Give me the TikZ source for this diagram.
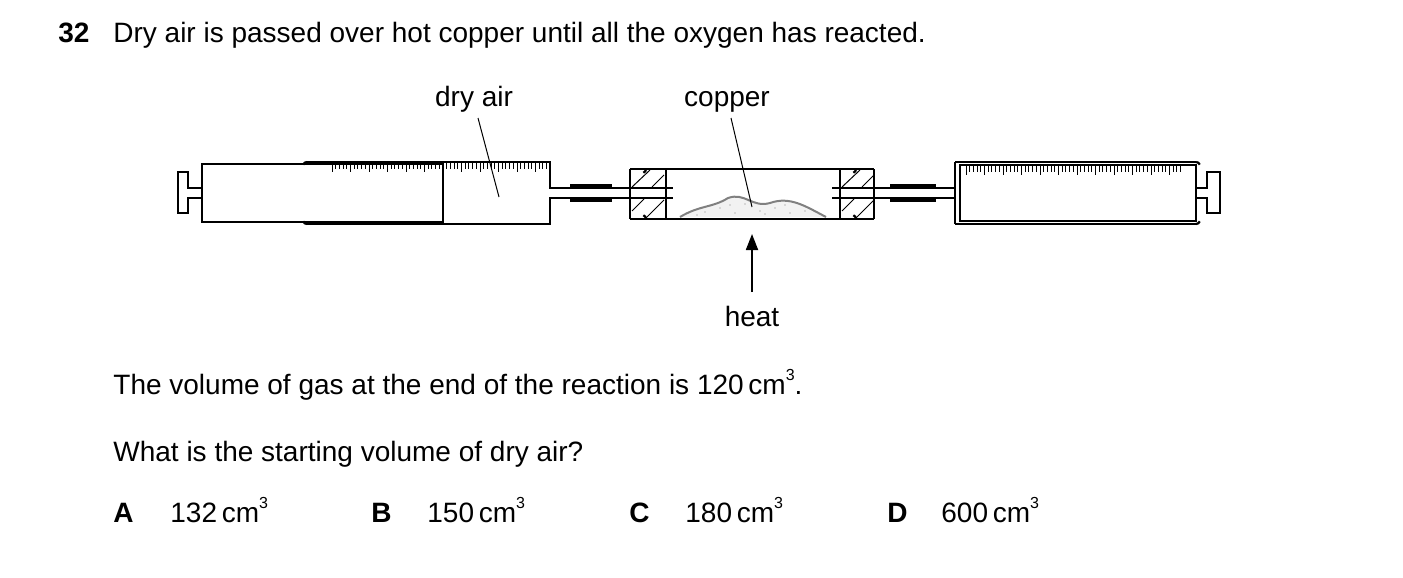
\documentclass[tikz,border=0pt]{standalone}
\usepackage{fontspec}
\setmainfont{Liberation Sans}
\usetikzlibrary{positioning,arrows.meta}
\newcommand{\cubed}{\,cm\raisebox{0.9ex}{\fontsize{8}{8}\selectfont 3}}
\tikzset{
  app/.style={line width=1.1pt, black},
  thin line/.style={line width=0.5pt, black},
  txt/.style={anchor=base west, inner sep=0pt, font=\fontsize{14}{16}\selectfont},
  lbl/.style={anchor=base, inner sep=0pt, font=\fontsize{14}{16}\selectfont},
}
\begin{document}
\begin{tikzpicture}[x=0.5pt,y=-0.5pt]
    \useasboundingbox (0,0) rectangle (1403,578);

    % Question text
    \node[txt, font=\fontsize{14}{16}\selectfont\bfseries] (qnum) at (58,42) {32};
    \node[txt] (qtext) at (113,42) {Dry air is passed over hot copper until all the oxygen has reacted.};

    % Left syringe
    \draw[app] (202,188) -- (188,188) -- (188,172) -- (178,172) -- (178,213) -- (188,213) -- (188,198) -- (202,198);
    \draw[app] (202,164) rectangle (443,222);
    \draw[app] (307,162) -- (550,162) -- (550,188) -- (570,188);
    \draw[app] (307,224) -- (550,224) -- (550,198) -- (570,198);
    \draw[app] (307,162) arc (270:200:4);
    \draw[app] (307,224) arc (90:160:4);
    \foreach \i in {0,...,58} {
      \pgfmathsetmacro{\xx}{332+3.7*\i}
      \pgfmathsetmacro{\ll}{ifthenelse(mod(\i,5)==0,9,6)}
      \draw[thin line] (\xx,163) -- (\xx,163+\ll);
    }
    % Left connector
    \draw[app, line width=2pt] (570,186) -- (612,186);
    \draw[app, line width=2pt] (570,200) -- (612,200);
    \draw[app] (570,188) -- (630,188);
    \draw[app] (570,198) -- (630,198);

    % Combustion tube
    \draw[app] (630,169) -- (874,169);
    \draw[app] (630,219) -- (874,219);
    \draw[app] (630,169) -- (630,219);
    \draw[app] (666,169) -- (666,219);
    \draw[app] (840,169) -- (840,219);
    \draw[app] (874,169) -- (874,219);
    \draw[app] (620,188) -- (673,188);
    \draw[app] (620,198) -- (673,198);
    \draw[app] (832,188) -- (890,188);
    \draw[app] (832,198) -- (890,198);
    \foreach \bx in {630,840} {
      \draw[thin line] (\bx+2,187) -- (\bx+20,170);
      \draw[thin line] (\bx+22,187) -- (\bx+34,175);
      \draw[thin line] (\bx+2,211) -- (\bx+14,199);
      \draw[thin line] (\bx+16,218) -- (\bx+34,200);
      \draw[app] (\bx+16,169) arc (0:70:4);
      \draw[app] (\bx+16,219) arc (0:-70:4);
    }
    % Copper
    \fill[gray!10] (680,217) .. controls (700,205) and (712,208) .. (728,198) .. controls (745,192) and (752,208) .. (770,203) .. controls (790,196) and (805,206) .. (826,217) -- cycle;
    \draw[gray, line width=1pt] (680,217) .. controls (700,205) and (712,208) .. (728,198) .. controls (745,192) and (752,208) .. (770,203) .. controls (790,196) and (805,206) .. (826,217);
    \foreach \dx/\dy in {705/212,720/208,735/213,745/204,760/211,775/208,790/213,805/211,730/205,765/214,697/215,785/205} {
      \fill[gray] (\dx,\dy) circle (0.6);
    }

    % Right connector
    \draw[app, line width=2pt] (890,186) -- (936,186);
    \draw[app, line width=2pt] (890,200) -- (936,200);
    \draw[app] (890,188) -- (955,188);
    \draw[app] (890,198) -- (955,198);

    % Right syringe
    \draw[app] (955,162) -- (1196,162);
    \draw[app] (955,224) -- (1196,224);
    \draw[app] (955,162) -- (955,224);
    \draw[app] (960,165) rectangle (1196,221);
    \draw[app] (1196,162) arc (270:340:4);
    \draw[app] (1196,224) arc (90:20:4);
    \draw[app] (1196,188) -- (1207,188) -- (1207,172) -- (1220,172) -- (1220,213) -- (1207,213) -- (1207,198) -- (1196,198);
    \foreach \i in {0,...,58} {
      \pgfmathsetmacro{\xx}{966+3.7*\i}
      \pgfmathsetmacro{\ll}{ifthenelse(mod(\i,5)==0,9,6)}
      \draw[thin line] (\xx,166) -- (\xx,166+\ll);
    }

    % Labels
    \node[lbl] (dryair) at (474,106) {dry air};
    \node[lbl] (copper) at (727,106) {copper};
    \coordinate (dryairend) at (499,197);
    \coordinate (copperend) at (752,207);
    \draw[thin line] (478,118) -- (dryairend);
    \draw[thin line] (731,118) -- (copperend);
    \node[lbl] (heat) at (752,326) {heat};
    \coordinate (heattail) at (752,292);
    \coordinate (heathead) at (752,234);
    \draw[thin line, line width=0.9pt, -{Triangle[length=8pt,width=6pt]}] (heattail) -- (heathead);

    % Rest of question
    \node[txt] (volume) at (113,394) {The volume of gas at the end of the reaction is 120\cubed.};
    \node[txt] (start) at (113,461) {What is the starting volume of dry air?};
    \node[txt, font=\fontsize{14}{16}\selectfont\bfseries] (optA) at (113,522) {A};
    \node[txt] (valA) at (170,522) {132\cubed};
    \node[txt, font=\fontsize{14}{16}\selectfont\bfseries] (optB) at (371,522) {B};
    \node[txt] (valB) at (427,522) {150\cubed};
    \node[txt, font=\fontsize{14}{16}\selectfont\bfseries] (optC) at (629,522) {C};
    \node[txt] (valC) at (685,522) {180\cubed};
    \node[txt, font=\fontsize{14}{16}\selectfont\bfseries] (optD) at (887,522) {D};
    \node[txt] (valD) at (941,522) {600\cubed};
\end{tikzpicture}
\end{document}
